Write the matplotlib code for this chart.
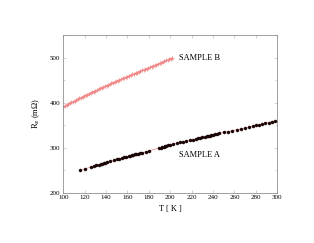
import matplotlib
matplotlib.use("Agg")
import matplotlib.pyplot as plt
from matplotlib.ticker import MultipleLocator

plt.rcParams['font.family'] = ['Liberation Serif', 'DejaVu Serif']

# Sample A (black dots)
T_A = [116, 120, 126, 129, 131, 133, 135, 136, 138, 139, 141, 144, 147, 150, 152, 155,
       157, 159, 161, 162, 164, 165, 167, 168, 170, 172, 174, 177, 180, 189, 191, 192,
       194, 195, 196, 198, 200, 203, 206, 209, 212, 215, 218, 221, 224, 226, 228, 230,
       232, 234, 235, 237, 238, 240, 242, 244, 246, 250, 254, 258, 262, 266, 270, 274,
       277, 280, 283, 286, 289, 292, 295, 298]
R_A = [250, 253, 257, 259, 261, 262, 263, 264, 265, 266, 268, 270, 272, 274, 275, 277,
       279, 280, 281, 282, 283, 284, 285, 286, 287, 288, 289, 291, 293, 299, 300, 301,
       302, 303, 304, 305, 306, 308, 310, 312, 313, 315, 317, 318, 320, 321, 322, 323,
       324, 326, 326, 327, 328, 329, 330, 331, 332, 334, 336, 338, 340, 342, 344, 346,
       348, 350, 351, 353, 355, 356, 358, 360]

# Sample B (light red markers)
T_B = [100, 101.5, 103, 104.5, 106, 107.5, 109, 110.5, 112, 113.5, 115, 116.5, 118, 119.5,
       121, 122.5, 124, 125.5, 127, 128.5, 130, 131.5, 133, 134.5, 136, 137.5, 139, 140.5,
       142, 143.5, 145, 146.5, 148, 149.5, 151, 152.5, 154, 155.5, 157, 158.5, 160, 161.5,
       163, 164.5, 166, 167.5, 169, 170.5, 172, 173.5, 175, 176.5, 178, 179.5, 181, 182.5,
       184, 185.5, 187, 188.5, 190, 191.5, 193, 194.5, 196, 197.5, 199, 200.5, 202]
R_B = [391, 393, 395, 397, 399, 401, 402, 404, 406, 408, 410, 411, 413, 415,
       417, 418, 420, 422, 423, 425, 427, 428, 430, 432, 433, 435, 437, 438,
       440, 441, 443, 445, 446, 448, 449, 451, 452, 454, 455, 457, 458, 460,
       461, 463, 464, 466, 467, 469, 470, 472, 473, 474, 476, 477, 479, 480,
       482, 483, 485, 486, 488, 489, 491, 492, 494, 495, 497, 498, 500]

fig = plt.figure(figsize=(3.14, 2.43), dpi=100)
ax = fig.add_axes([0.2016, 0.207, 0.6814, 0.6477])

ax.plot(T_B, R_B, color='#ee3030', lw=0.5, marker='+', ms=3.2, mew=0.6,
        mec='#f08a8a', zorder=2)
ax.plot(T_A, R_A, color='#f08080', lw=0.5, marker='o', ms=2.2, mfc='#1a0505',
        mec='#1a0505', mew=0.3, zorder=3)

ax.set_xlim(100, 300)
ax.set_ylim(200, 550)
ax.xaxis.set_major_locator(MultipleLocator(20))
ax.yaxis.set_major_locator(MultipleLocator(100))
ax.yaxis.set_minor_locator(MultipleLocator(50))

for s in ax.spines.values():
    s.set_color('#909090')
    s.set_linewidth(0.6)
ax.tick_params(which='both', direction='in', top=True, right=True,
               color='#b0b0b0', width=0.4, labelsize=5, pad=2)
ax.tick_params(which='major', length=2.5)
ax.tick_params(which='minor', length=1.5)

ax.set_xlabel('T [ K ]', fontsize=6, labelpad=3)
ax.set_ylabel('R$_s$ (m\u03a9)', fontsize=6, labelpad=6)

ax.text(208, 500, 'SAMPLE B', fontsize=6, va='center', ha='left')
ax.text(208, 284, 'SAMPLE A', fontsize=6, va='center', ha='left')

fig.savefig('out.png', dpi=100)
